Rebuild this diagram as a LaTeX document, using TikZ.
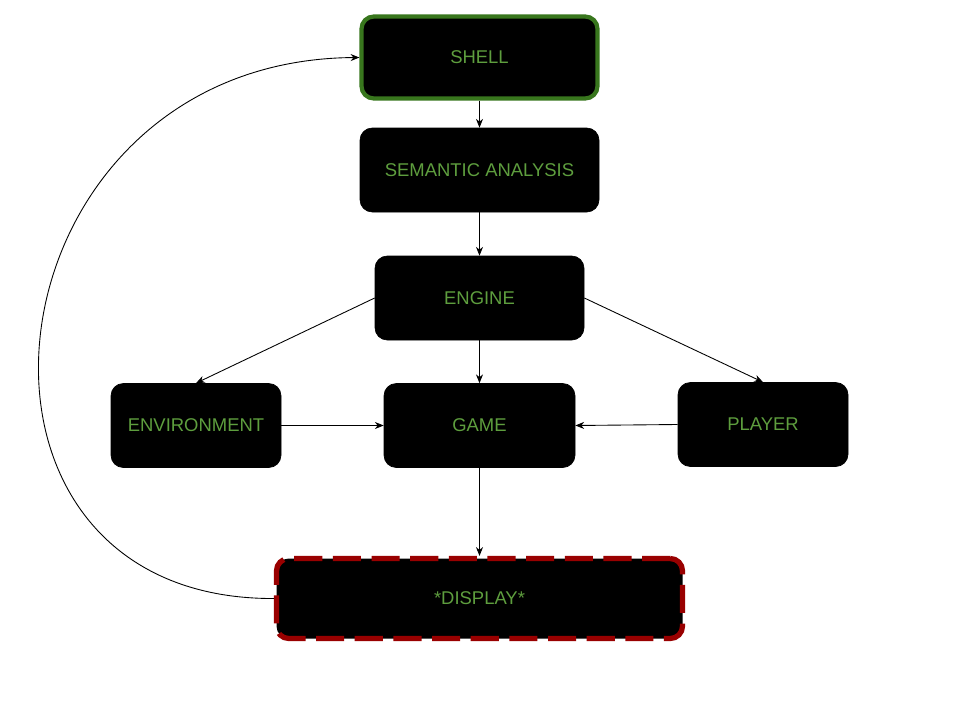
\documentclass[tikz,border=0pt]{standalone}
\usepackage{fontspec}
\setmainfont{Liberation Sans}
\definecolor{BoxGreen}{HTML}{38761D}
\definecolor{LabelGreen}{HTML}{5E9E3E}
\definecolor{DarkRed}{HTML}{990000}
\usetikzlibrary{arrows.meta,positioning}

\begin{document}
\begin{tikzpicture}[x=0.02cm,y=-0.02cm,
    box/.style={rounded corners=7pt,fill=black,draw=black,
                minimum height=84*0.02cm,font=\fontsize{10.5}{12}\selectfont,
                text=LabelGreen,inner sep=2pt,align=center},
    link/.style={-{Stealth[length=5pt,width=4pt]},line width=0.5pt}]
    \useasboundingbox (0,0) rectangle (960,720);

    \node[box,draw=BoxGreen,line width=2.4pt,minimum width=236*0.02cm,
          minimum height=82*0.02cm] (shell) at (479.5,57.5) {SHELL};
    \node[box,minimum width=239*0.02cm] (sem) at (479.5,170) {SEMANTIC ANALYSIS};
    \node[box,minimum width=209*0.02cm] (engine) at (479.5,298) {ENGINE};
    \node[box,minimum width=170*0.02cm] (env) at (196,425.5) {ENVIRONMENT};
    \node[box,minimum width=191*0.02cm] (game) at (479.5,425.5) {GAME};
    \node[box,minimum width=170*0.02cm] (player) at (763,424.5) {PLAYER};
    \node[box,draw=DarkRed,line width=3pt,dash pattern=on 16pt off 6pt,
          minimum width=406*0.02cm,minimum height=80*0.02cm] (display) at (479.5,598.5) {*DISPLAY*};

    \foreach \a/\b in {shell/sem,sem/engine,engine/game,game/display}{
      \draw[link] (\a) -- (\b);
    }
    \draw[link] (engine.west) -- (env.north);
    \draw[link] (engine.east) -- (player.north);
    \draw[link] (env.east) -- (game.west);
    \draw[link] (player.west) -- (game.east);

    % feedback loop back to the shell
    \draw[link] (display.west) .. controls (-80,600) and (-20,60) .. (shell.west);
  \end{tikzpicture}
\end{document}
